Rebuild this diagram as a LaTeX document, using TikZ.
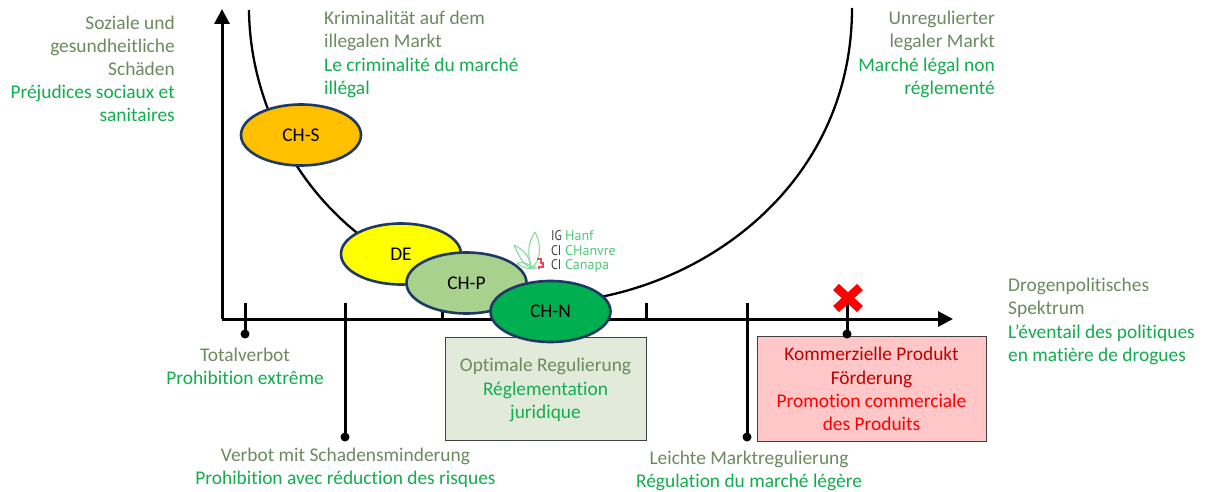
\documentclass[tikz,border=0pt]{standalone}
\usepackage{fontspec}
\setmainfont[Ligatures=NoCommon]{Carlito}
\newfontfamily\logofont{PT Sans}
\usetikzlibrary{arrows.meta,shapes.geometric}
\definecolor{gtext}{HTML}{6B8A60}
\definecolor{ftext}{HTML}{12AD4E}
\definecolor{gtred}{HTML}{C00000}
\definecolor{navyline}{HTML}{1F3864}
\definecolor{leaf}{HTML}{7FD896}
\definecolor{logog}{HTML}{4FC878}
\definecolor{optfill}{HTML}{E2EBDA}
\definecolor{comfill}{HTML}{FFC7C7}
\definecolor{orangeb}{HTML}{FFC000}
\definecolor{pureyellow}{HTML}{FFFF00}
\definecolor{purered}{HTML}{FF0000}
\definecolor{paleg}{HTML}{A9D18E}
\definecolor{darkg}{HTML}{00B050}
\definecolor{swissr}{HTML}{E84A5A}
\newcommand{\de}[1]{\textcolor{gtext}{#1}}
\newcommand{\fr}[1]{\textcolor{ftext}{#1}}
\tikzset{
  lab/.style={font=\fontsize{19.4}{23.2}\selectfont, inner sep=0pt, align=#1},
  lab/.default=center,
  blob/.style={ellipse, draw=navyline, line width=2.6pt, minimum width=120pt, minimum height=61pt, inner sep=0pt, font=\fontsize{19.4}{20}\selectfont},
  axisline/.style={line width=3pt, black},
  curveline/.style={line width=2.3pt, black},
  pin/.style={circle, fill=black, minimum size=9pt, inner sep=0pt},
  pinline/.style={line width=3pt, black},
  box/.style={draw=#1, line width=1pt, inner sep=0pt},
  logotxt/.style={font=\logofont\fontsize{14}{14}\selectfont, inner sep=0pt, anchor=base west}
}
\begin{document}
\begin{tikzpicture}[x=1pt,y=-1pt]
\useasboundingbox (0,0) rectangle (1206,492);
\fill[white] (0,0) rectangle (1206,492);

% axes
\coordinate (origin) at (222,319);
\coordinate (ytip) at (222,9);
\coordinate (xtip) at (953,319);
\draw[axisline,-{Triangle[length=15pt,width=15pt]}] (origin) -- (ytip);
\draw[axisline,-{Triangle[length=15pt,width=15pt]}] (origin) -- (xtip);

% curve
\coordinate (cL) at (249,10);
\coordinate (cB) at (540,303);
\coordinate (cR) at (852,8);
\draw[curveline] (cL) .. controls (250,120) and (318,232) .. (430,275)
   .. controls (465,289) and (505,303) .. (cB)
   .. controls (685,303) and (852,195) .. (cR);

% boxes
\node[box=black!75, fill=optfill, minimum width=201pt, minimum height=103pt] (opt) at (545.5,388.5) {};
\node[box=black!75, fill=comfill, minimum width=229pt, minimum height=105pt] (com) at (871.5,388.5) {};

% ticks
\coordinate (t1) at (245,303); \node[pin] (p1) at (245,334) {};
\coordinate (t2) at (345,303); \node[pin] (p2) at (345,437) {};
\coordinate (t3) at (442,311); \coordinate (t3b) at (442,319);
\coordinate (t4) at (646,303); \coordinate (t4b) at (646,319);
\coordinate (t5) at (747,303); \node[pin] (p5) at (747,437) {};
\coordinate (t6) at (847,300); \node[pin] (p6) at (847,334) {};
\draw[pinline] (t1) -- (p1.center);
\draw[pinline] (t2) -- (p2.center);
\draw[pinline] (t3) -- (t3b);
\draw[pinline] (t4) -- (t4b);
\draw[pinline] (t5) -- (p5.center);
\draw[pinline] (t6) -- (p6.center);

% cross
\draw[purered,line width=8.5pt] (836,287) -- (860,309) (836,309) -- (860,287);

% ellipses
\node[blob, fill=orangeb] (chs) at (301,135) {CH-S};
\node[blob, fill=pureyellow] (de) at (401,254) {DE};
\node[blob, fill=paleg] (chp) at (466.5,283) {CH-P};
\node[blob, fill=darkg] (chn) at (550.5,311.5) {CH-N};

% box labels
\node[lab] (optt) at (545.5,390) {\de{Optimale Regulierung}\\\fr{Réglementation}\\\fr{juridique}};
\node[lab] (comt) at (871.5,389) {\textcolor{gtred}{Kommerzielle Produkt}\\\textcolor{gtred}{Förderung}\\\textcolor{purered}{Promotion commerciale}\\\textcolor{purered}{des Produits}};

% labels
\node[lab=right, anchor=north east] (l1) at (175,15.5) {\de{Soziale und}\\\de{gesundheitliche}\\\de{Schäden}\\\fr{Préjudices sociaux et}\\\fr{sanitaires}};
\node[lab=left, anchor=north west] (l2) at (324,11) {\de{Kriminalität auf dem}\\\de{illegalen Markt}\\\fr{Le criminalité du marché}\\\fr{illégal}};
\node[lab=right, anchor=north east] (l3) at (995,11) {\de{Unregulierter}\\\de{legaler Markt}\\\fr{Marché légal non}\\\fr{réglementé}};
\node[lab=left, anchor=north west] (l4) at (1008,278) {\de{Drogenpolitisches}\\\de{Spektrum}\\\fr{L'éventail des politiques}\\\fr{en matière de drogues}};
\node[lab] (l5) at (245,366) {\de{Totalverbot}\\\fr{Prohibition extrême}};
\node[lab] (l6) at (345.5,468) {\de{Verbot mit Schadensminderung}\\\fr{Prohibition avec réduction des risques}};
\node[lab] (l7) at (749,471) {\de{Leichte Marktregulierung}\\\fr{Régulation du marché légère}};

% logo
\begin{scope}[leaf, line width=1pt]
\draw (535,232) .. controls (527,243) and (528,257) .. (531,268) .. controls (541,262) and (542,245) .. (535,232);
\draw (514,245) .. controls (519,257) and (524,265) .. (531,268) .. controls (531,258) and (524,250) .. (514,245);
\draw (517,263) .. controls (522,261) and (530,265) .. (536,268) .. controls (529,270) and (523,268) .. (517,263);
\end{scope}
\draw[swissr, line width=1.1pt] (537,259) -- (541,259) -- (541,263) -- (543,263) -- (543,267) -- (539,267) -- (539,269);
\node[logotxt, text=black!75, xscale=0.85] (g1) at (551,240) {IG};
\node[logotxt, text=black!75, xscale=0.85] (g2) at (551,255) {CI};
\node[logotxt, text=black!75, xscale=0.85] (g3) at (551,269) {CI};
\node[logotxt, text=logog] (h1) at (565,240) {Hanf};
\node[logotxt, text=logog] (h2) at (565,255) {CHanvre};
\node[logotxt, text=logog] (h3) at (565,269) {Canapa};
\end{tikzpicture}
\end{document}
